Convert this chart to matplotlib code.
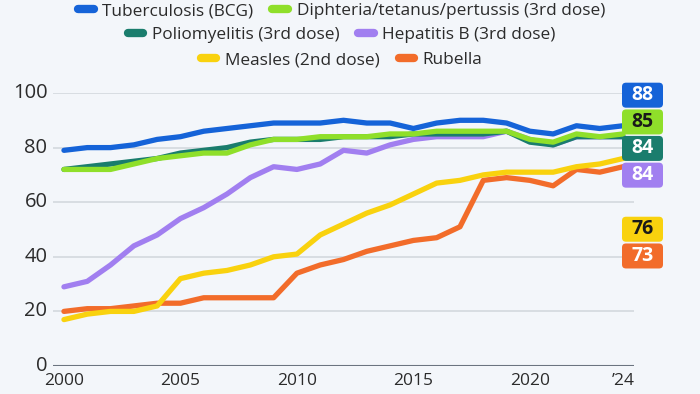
import matplotlib.pyplot as plt
from matplotlib.patches import FancyBboxPatch
from matplotlib.lines import Line2D

plt.rcParams['font.family'] = ['Open Sans', 'DejaVu Sans']

years = list(range(2000, 2025))

tuberculosis = [79, 80, 80, 81, 83, 84, 86, 87, 88, 89, 89, 89, 90, 89, 89, 87, 89, 90, 90, 89, 86, 85, 88, 87, 88]
dtp = [72, 72, 72, 74, 76, 77, 78, 78, 81, 83, 83, 84, 84, 84, 85, 85, 86, 86, 86, 86, 83, 82, 85, 84, 85]
polio = [72, 73, 74, 75, 76, 78, 79, 80, 82, 83, 83, 83, 84, 84, 84, 85, 85, 85, 85, 86, 82, 81, 84, 84, 84]
hepb = [29, 31, 37, 44, 48, 54, 58, 63, 69, 73, 72, 74, 79, 78, 81, 83, 84, 84, 84, 86, 83, 81, 84, 84, 84]
measles = [17, 19, 20, 20, 22, 32, 34, 35, 37, 40, 41, 48, 52, 56, 59, 63, 67, 68, 70, 71, 71, 71, 73, 74, 76]
rubella = [20, 21, 21, 22, 23, 23, 25, 25, 25, 25, 34, 37, 39, 42, 44, 46, 47, 51, 68, 69, 68, 66, 72, 71, 73]

names = ['Tuberculosis (BCG)', 'Diphteria/tetanus/pertussis (3rd dose)',
         'Poliomyelitis (3rd dose)', 'Hepatitis B (3rd dose)',
         'Measles (2nd dose)', 'Rubella']
series = [tuberculosis, dtp, polio, hepb, measles, rubella]
colors = ['#1563d8', '#8fdf2a', '#1a7d6d', '#a17ff0', '#f9d20e', '#f26c2a']
label_text_colors = ['white', '#1a1a1a', 'white', 'white', '#1a1a1a', 'white']
# vertical slots for the end-value badges (data units)
label_pos = [99.2, 89.4, 79.7, 69.9, 50.1, 40.3]

bg = '#f3f6fa'
fig = plt.figure(figsize=(7, 3.94), dpi=100, facecolor=bg)
ax = fig.add_axes([53 / 700, 28 / 394, 581 / 700, 273 / 394], facecolor=bg)

for s, c in reversed(list(zip(series, colors))):
    ax.plot(years, s, color=c, lw=3.8, solid_capstyle='round', solid_joinstyle='round', zorder=3)

ax.set_xlim(1999.53, 2024.47)
ax.set_ylim(0, 100)
ax.set_yticks([0, 20, 40, 60, 80, 100])
ax.set_xticks([2000, 2005, 2010, 2015, 2020, 2024])
ax.set_xticklabels(['2000', '2005', '2010', '2015', '2020', '\u201924'])
ax.grid(axis='y', color='#d3d8de', lw=1.2, zorder=1)
ax.axhline(0, color='#6b7480', lw=1.5, zorder=2)
for sp in ax.spines.values():
    sp.set_visible(False)
ax.tick_params(axis='y', length=0, pad=4, labelsize=14.5, labelcolor='#2b2b2b')
ax.tick_params(axis='x', length=0, pad=5, labelsize=12.5, labelcolor='#2b2b2b')
for lbl in ax.get_yticklabels():
    lbl.set_verticalalignment('center')

# end-value badges
fig.canvas.draw()
for s, c, tc, pos in zip(series, colors, label_text_colors, label_pos):
    _, yd = ax.transData.transform((2024, pos))
    yin = yd / fig.dpi
    box = FancyBboxPatch((6.22, yin - 0.125), 0.41, 0.25,
                         boxstyle='round,pad=0,rounding_size=0.04',
                         transform=fig.dpi_scale_trans, facecolor=c, edgecolor='none')
    fig.patches.append(box)
    fig.text(6.425 / 7, yin / 3.94, str(s[-1]), ha='center', va='center',
             fontsize=14, fontweight='bold', color=tc)

# legend: three centred rows
rows = [(0, 1), (2, 3), (4, 5)]
row_y = [0.972, 0.910, 0.847]
for (i, j), y in zip(rows, row_y):
    handles = [Line2D([], [], color=colors[k], lw=6, solid_capstyle='round') for k in (i, j)]
    fig.legend(handles, [names[i], names[j]], loc='center', bbox_to_anchor=(0.488, y),
               ncol=2, frameon=False, fontsize=12.4, handlelength=0.9,
               handletextpad=0.5, columnspacing=1.1, borderpad=0, labelcolor='#2b2b2b')

fig.savefig('out.png', dpi=100, facecolor=bg)
